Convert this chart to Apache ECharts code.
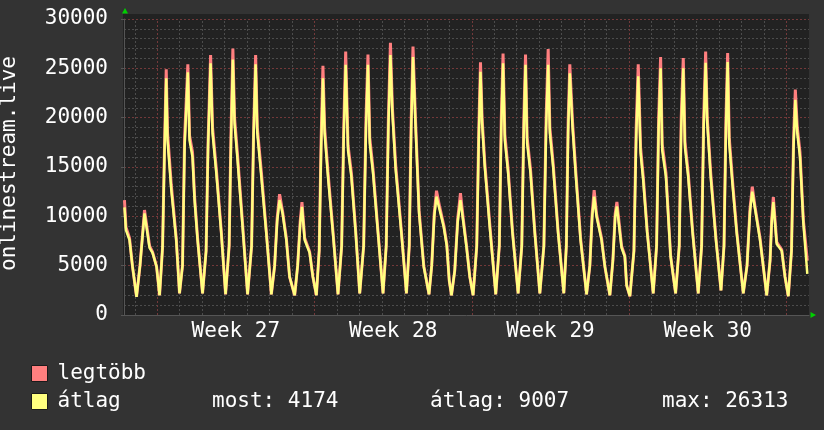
<!DOCTYPE html>
<html>
<head>
<meta charset="utf-8">
<script src="https://cdn.jsdelivr.net/npm/echarts@6/dist/echarts.min.js"></script>
<style>
html, body { margin: 0; padding: 0; background: #333333; }
#main { width: 824px; height: 430px; }
</style>
</head>
<body>
<div id="main"></div>
<script>
// x = hours since start of Week 27
var hours = [
  -35, -33.4, -29.6, -26.4, -22.1, -18.4, -13.6, -8.2, -5, -0.7, 2.5,
  5.7, 7.8, 9.6, 11, 15, 20.3, 23.8,
  27, 29.2, 32.7, 34.5, 37.7, 39.9, 43.1, 48.4,
  52.2, 54.3, 57, 59.1, 63.1, 68.4, 73,
  76.8, 78.9, 80.8, 82.6, 85.8, 91.2, 96.5,
  100.8, 102.9, 105.1, 106.9, 111.2, 116.5, 121.9,
  125.4, 128.1, 130.7, 133.9, 137.9, 141.4, 146.8,
  150, 152.7, 154.6, 157.5, 162.8, 166.3, 170,
  173, 175.1, 177, 178.8, 182.4, 187.7, 193.1,
  197, 199.2, 201.3, 203.8, 207.4, 212, 216.3,
  220.5, 223, 225.1, 227, 230.5, 235.8, 241.2,
  244.6, 246.9, 249.1, 251.2, 254.7, 260.8, 266.2,
  269.2, 271.3, 273.2, 275.8, 279.7, 284.7, 290.3,
  293.2, 295.9, 298.3, 301.8, 306.1, 309.3, 311.9, 314.3,
  317.8, 321, 323.9, 326.7, 330.3, 333.9, 337.4,
  341.3, 343.5, 345.3, 347, 349.9, 355.2, 361.6,
  365.4, 367.5, 369.4, 371.3, 374.8, 379.5, 385.5,
  389.4, 391.6, 393.4, 395.1, 398.7, 403.3, 408.7,
  413, 415.4, 417.6, 419.4, 422.9, 428.2, 434.3,
  437, 438.9, 440.7, 443.6, 447.2, 452.2, 458.6,
  462.1, 464.6, 466.7, 469.3, 474.6, 478.2, 483.5,
  486.7, 489.2, 491, 496, 499.5, 501.4, 504.9,
  509.2, 511.6, 513.8, 516.3, 519.1, 523.4, 529.8,
  533.4, 535.6, 537.7, 539.4, 543.4, 548.4, 553.7,
  557.6, 559.7, 561.9, 563.7, 567.2, 571.9, 577.9,
  581.5, 583.7, 585.8, 587.5, 591.2, 596.8, 602.2,
  605.4, 607.5, 609.3, 611, 614.7, 619, 626,
  630, 633.2, 635.6, 638.5, 643.9, 647.4, 651,
  654.6, 656.4, 658.1, 661.7, 667.1, 670.6, 674.1,
  677.5, 679.7, 681.6, 683.7, 686.6, 690.2, 694.4
];
// átlag (average)
var avgVals = [
  10900, 8600, 7600, 4900, 1850, 5000, 10300, 6800, 6300, 4900, 2000,
  6900, 16700, 24000, 17700, 12700, 7600, 2200,
  5000, 17000, 24600, 17700, 16000, 11650, 7600, 2200,
  6500, 17000, 25500, 18400, 14400, 8300, 2100,
  7000, 18000, 25900, 19400, 15700, 8900, 2100,
  7000, 18000, 25400, 18400, 14000, 8300, 2100,
  5000, 9500, 11650, 10300, 7600, 3850, 2000,
  5000, 9200, 10950, 7600, 6300, 3850, 2000,
  6500, 17000, 24000, 18400, 14000, 8300, 2100,
  7000, 18000, 25350, 16700, 14000, 8300, 2200,
  7000, 19000, 25350, 17400, 14400, 8300, 2200,
  7000, 19000, 26350, 20450, 14700, 8300, 2200,
  7000, 19000, 26150, 19450, 10300, 4900, 2100,
  5000, 10000, 12000, 10600, 8900, 7000, 3500, 2000,
  4500, 9500, 11650, 9600, 6900, 3850, 2000,
  7000, 18000, 24650, 19450, 15000, 8900, 2100,
  7000, 19000, 25500, 17700, 14400, 8300, 2200,
  7000, 19000, 25350, 17400, 14400, 8300, 2200,
  7000, 19000, 25350, 18400, 15000, 8300, 2200,
  7000, 18500, 24500, 19050, 14000, 7600, 2100,
  5000, 10000, 12000, 9950, 7600, 4900, 2000,
  5500, 10000, 11000, 6800, 5900, 3000, 1900,
  6500, 18000, 24200, 16400, 13700, 8300, 2200,
  7000, 19000, 25000, 16700, 14000, 5900, 2200,
  7000, 19000, 25000, 17000, 14000, 8300, 2200,
  7000, 19000, 25550, 19450, 14000, 7600, 2500,
  7000, 19000, 25650, 17400, 13000, 8300, 2200,
  5000, 10500, 12500, 10800, 7600, 4900, 2000,
  5500, 9500, 11450, 7200, 6500, 3850, 1900,
  6500, 17000, 21800, 18400, 16000, 9300, 4174
];
// legtöbb (maximum)
var maxVals = [
  11650, 8900, 7800, 4900, 1850, 5000, 10640, 7000, 6400, 4900, 2000,
  6900, 17200, 24900, 18500, 13200, 7800, 2200,
  5000, 17900, 25400, 18200, 16500, 12000, 7800, 2200,
  6500, 17500, 26350, 19000, 14800, 8500, 2100,
  7000, 19000, 27000, 20000, 16200, 9200, 2100,
  7000, 18500, 26350, 19000, 14500, 8500, 2100,
  5000, 9800, 12250, 10500, 7800, 3850, 2000,
  5000, 9500, 11450, 7800, 6400, 3850, 2000,
  6500, 18000, 25250, 19000, 14500, 8500, 2100,
  7000, 19000, 26700, 17200, 14400, 8500, 2200,
  7000, 20000, 26400, 18000, 14800, 8500, 2200,
  7000, 20000, 27600, 21000, 15200, 8500, 2200,
  7000, 20000, 27200, 20000, 10600, 5000, 2100,
  5000, 10300, 12600, 10900, 9100, 7200, 3500, 2000,
  4500, 9800, 12350, 9900, 7100, 3850, 2000,
  7000, 19000, 25600, 20000, 15400, 9200, 2100,
  7000, 20000, 26500, 18300, 14800, 8500, 2200,
  7000, 20000, 26400, 18000, 14800, 8500, 2200,
  7000, 20000, 26950, 19000, 15400, 8500, 2200,
  7000, 19500, 25400, 19600, 14400, 7800, 2100,
  5000, 10300, 12650, 10200, 7800, 4900, 2000,
  5500, 10300, 11450, 7000, 6000, 3000, 1900,
  6500, 19000, 25400, 17000, 14100, 8500, 2200,
  7000, 20000, 26150, 17300, 14400, 6000, 2200,
  7000, 20000, 26050, 17600, 14400, 8500, 2200,
  7000, 20000, 26700, 20000, 14400, 7800, 2500,
  7000, 20000, 26550, 18000, 13400, 8500, 2200,
  5000, 10800, 13000, 11000, 7800, 4900, 2000,
  5500, 9800, 11950, 7400, 6600, 3850, 1900,
  6500, 17800, 22850, 19000, 16500, 9600, 5500
];

var weekMid = [84, 252, 420, 588];
var weekLabels = ['Week 27', 'Week 28', 'Week 29', 'Week 30'];
var weekLines = [0, 168, 336, 504, 672];
var dayLines = [-24, 24, 48, 72, 96, 120, 144, 192, 216, 240, 264, 288, 312,
  360, 384, 408, 432, 456, 480, 528, 552, 576, 600, 624, 648];

var seriesNames = ['legtöbb', 'átlag'];
var statNames = ['most', 'átlag', 'max'];
var statValues = [4174, 9007, 26313];
var yTitle = 'onlinestream.live';

var FONT = '"DejaVu Sans Mono", monospace';
var RED = '#ff7f7f', YEL = '#ffff7f';

var chart = echarts.init(document.getElementById('main'));

var maxData = hours.map(function (h, i) { return [h, maxVals[i]]; });
var avgData = hours.map(function (h, i) { return [h, avgVals[i]]; });

var vLines = [];
dayLines.forEach(function (v) {
  vLines.push({ xAxis: v, lineStyle: { color: '#4c4c4c', type: [2, 2], width: 1 } });
});
weekLines.forEach(function (v) {
  vLines.push({ xAxis: v, lineStyle: { color: '#73393a', type: [2, 2], width: 1 } });
});

var statX = [212, 430, 662];

chart.setOption({
  backgroundColor: '#333333',
  animation: false,
  grid: { left: 124, right: 15, top: 19, bottom: 115 },
  legend: {
    left: 31, top: 363, orient: 'vertical', padding: 0,
    icon: 'rect', itemWidth: 16, itemHeight: 16, itemGap: 7,
    data: seriesNames,
    itemStyle: { borderColor: '#1a1a1a', borderWidth: 1 },
    textStyle: { color: '#ffffff', fontFamily: FONT, fontSize: 21, padding: [0, 0, 0, 5] }
  },
  xAxis: {
    type: 'value', min: -35.5, max: 696.2,
    axisLine: { onZero: false, lineStyle: { color: '#555555' } },
    axisTick: { show: false },
    splitLine: { show: false },
    axisLabel: {
      customValues: weekMid,
      formatter: function (v) { return weekLabels[weekMid.indexOf(v)]; },
      color: '#ffffff', fontFamily: FONT, fontSize: 21, margin: 6
    }
  },
  yAxis: {
    type: 'value', min: 0, max: 30000, interval: 5000,
    axisLine: { show: true, onZero: false, lineStyle: { color: '#555555' } },
    axisTick: { show: true, length: 3, lineStyle: { color: '#555555' } },
    axisLabel: {
      color: '#ffffff', fontFamily: FONT, fontSize: 21, margin: 16,
      formatter: function (v) { return String(v); }
    },
    splitLine: { lineStyle: { color: '#73393a', type: [2, 2] } },
    minorTick: { show: false, splitNumber: 5 },
    minorSplitLine: { show: true, lineStyle: { color: '#4c4c4c', type: [2, 2] } }
  },
  graphic: [
    { type: 'rect', z: -10, shape: { x: 123, y: 14, width: 686, height: 302 }, style: { fill: '#222222' } },
    { type: 'polygon', shape: { points: [[122, 13.5], [128, 13.5], [125, 8]] }, style: { fill: '#00d000' } },
    { type: 'polygon', shape: { points: [[810.5, 312], [810.5, 318], [816, 315]] }, style: { fill: '#00d000' } },
    {
      type: 'text', x: 10, y: 163.5, rotation: Math.PI / 2,
      style: { text: yTitle, fill: '#ffffff', font: '21px ' + FONT, align: 'center', verticalAlign: 'middle' }
    }
  ].concat(statNames.map(function (n, i) {
    return {
      type: 'text', x: statX[i], y: 402,
      style: { text: n + ': ' + statValues[i], fill: '#ffffff', font: '21px ' + FONT, verticalAlign: 'middle' }
    };
  })),
  series: [
    {
      name: seriesNames[0], type: 'line', data: maxData, symbol: 'none', z: 3,
      color: RED, lineStyle: { width: 3, color: RED },
      markLine: { silent: true, symbol: 'none', z: 1, label: { show: false }, data: vLines }
    },
    {
      name: seriesNames[1], type: 'line', data: avgData, symbol: 'none', z: 4,
      color: YEL, lineStyle: { width: 2.5, color: YEL }
    }
  ]
});
</script>
</body>
</html>
